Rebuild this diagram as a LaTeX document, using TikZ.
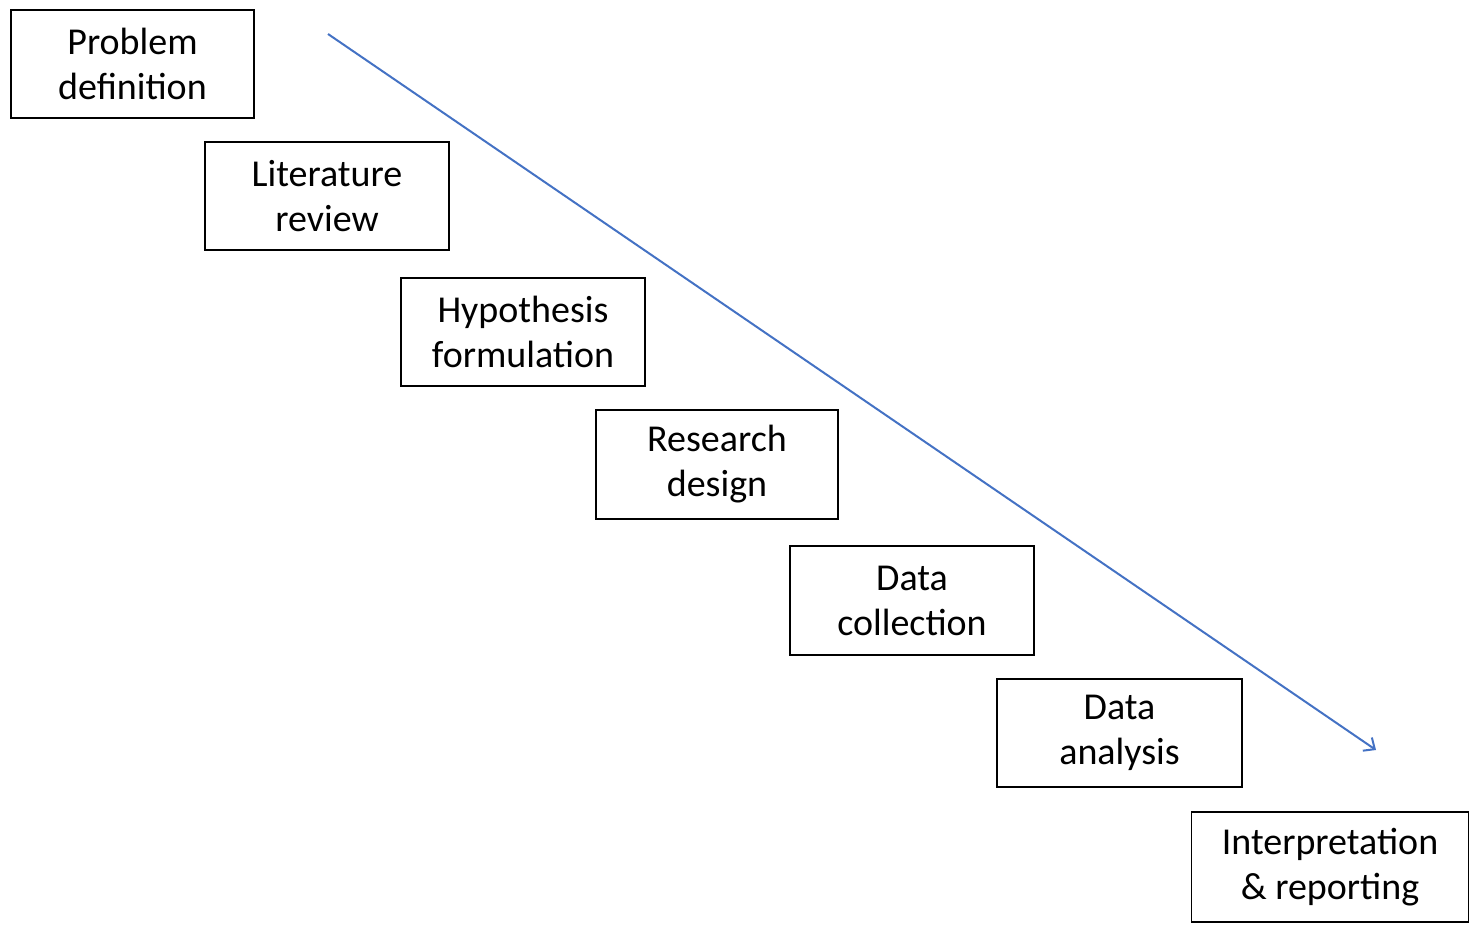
\documentclass[tikz,border=0pt]{standalone}
\usepackage{fontspec}
\setmainfont{Carlito}
\usetikzlibrary{arrows.meta}
\definecolor{arrowblue}{RGB}{68,114,196}
\begin{document}
\begin{tikzpicture}[x=1pt,y=-1pt,
  stepbox/.style={draw=black,line width=1.5pt,align=center,inner sep=0pt,
    font=\fontsize{38}{45}\selectfont},
  flow/.style={draw=arrowblue,line width=2pt,-{Straight Barb[length=9pt,width=16pt,line width=2pt]}}]
\useasboundingbox (0,0) rectangle (1471,929);
\node[stepbox,minimum width=243pt,minimum height=108pt] (p1) at (132.5,64) {Problem\\definition};
\node[stepbox,minimum width=244pt,minimum height=108pt] (p2) at (327,196) {Literature\\review};
\node[stepbox,minimum width=244pt,minimum height=108pt] (p3) at (523,332) {Hypothesis\\formulation};
\node[stepbox,minimum width=242pt,minimum height=109pt] (p4) at (717,464.5) {Research\\design};
\node[stepbox,minimum width=244pt,minimum height=109pt] (p5) at (912,600.5) {Data\\collection};
\node[stepbox,minimum width=245pt,minimum height=108pt] (p6) at (1119.5,733) {Data\\analysis};
\node[stepbox,minimum width=277pt,minimum height=110pt] (p7) at (1330,867) {Interpretation\\\& reporting};
\coordinate (a0) at (328,34);
\coordinate (a1) at (1376,750);
\draw[flow] (a0) -- (a1);
\end{tikzpicture}
\end{document}
